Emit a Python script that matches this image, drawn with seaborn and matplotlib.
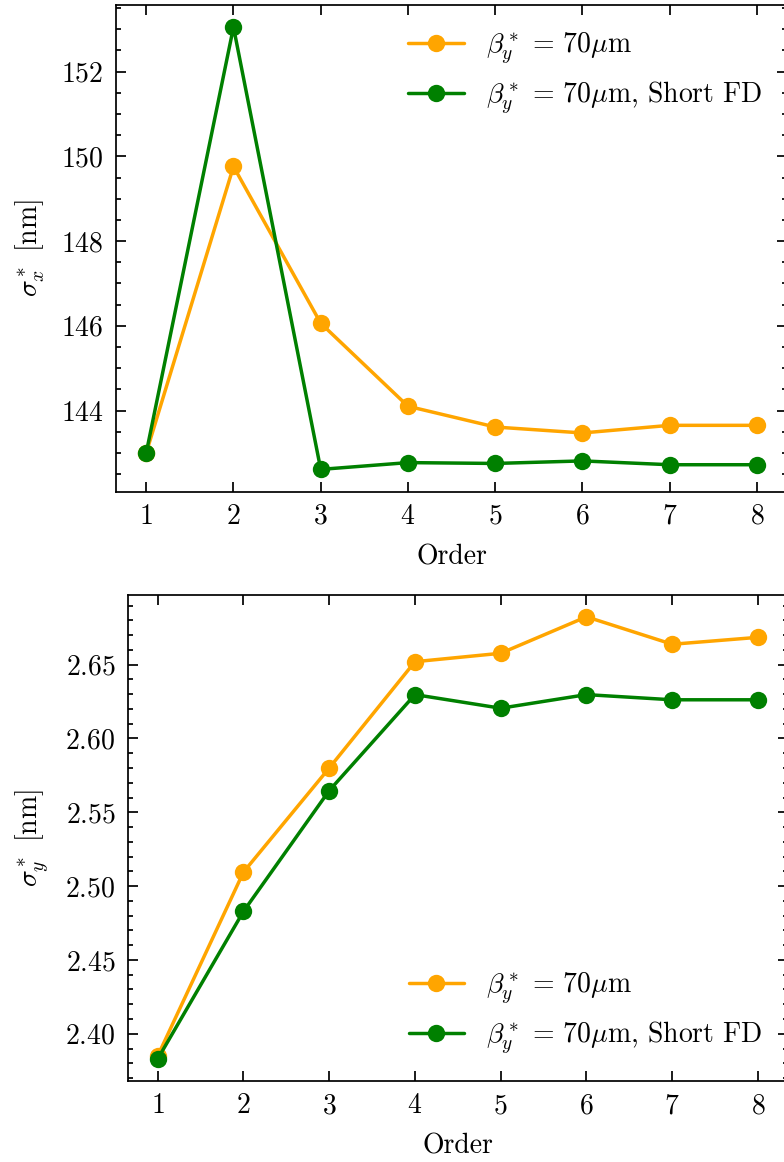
import matplotlib
matplotlib.use("Agg")
import matplotlib.pyplot as plt
import seaborn as sns
import pandas as pd
from matplotlib.ticker import AutoMinorLocator, NullLocator

# ---- data ----
order = [1, 2, 3, 4, 5, 6, 7, 8]
sigx_70 = [143.00, 149.76, 146.06, 144.10, 143.61, 143.47, 143.65, 143.65]
sigx_70_short = [143.00, 153.05, 142.61, 142.77, 142.75, 142.81, 142.72, 142.72]
sigy_70 = [2.385, 2.5095, 2.580, 2.652, 2.6577, 2.6824, 2.6638, 2.6685]
sigy_70_short = [2.383, 2.4829, 2.5647, 2.6297, 2.6205, 2.6297, 2.6262, 2.6262]
labels = [r'$\beta_y^*\,=\,70\mu$m', r'$\beta_y^*\,=\,70\mu$m, Short FD']
colors = ['orange', 'green']

sns.set_theme(style="ticks")
plt.rcParams.update({
    'font.family': 'serif',
    'font.serif': ['cmr10', 'DejaVu Serif'],
    'mathtext.fontset': 'cm',
    'axes.formatter.use_mathtext': True,
    'font.size': 8,
    'axes.labelsize': 8,
    'xtick.labelsize': 8,
    'ytick.labelsize': 8,
    'legend.fontsize': 8,
    'axes.linewidth': 0.5,
    'axes.edgecolor': 'black',
    'xtick.direction': 'in',
    'ytick.direction': 'in',
    'xtick.top': True,
    'ytick.right': True,
    'xtick.major.size': 3,
    'ytick.major.size': 3,
    'xtick.minor.size': 1.5,
    'ytick.minor.size': 1.5,
    'xtick.major.width': 0.5,
    'ytick.major.width': 0.5,
    'xtick.minor.width': 0.5,
    'ytick.minor.width': 0.5,
    'xtick.color': 'black',
    'ytick.color': 'black',
    'axes.labelcolor': 'black',
    'text.color': 'black',
})

W, H = 784, 1162
fig = plt.figure(figsize=(W / 250, H / 250), dpi=250)
ax1 = fig.add_axes([115.7 / W, (H - 491.5) / H, (787.5 - 115.7) / W, (491.5 - 5) / H])
ax2 = fig.add_axes([127.7 / W, (H - 1081) / H, (788 - 127.7) / W, (1081 - 594.7) / H])

df1 = pd.DataFrame({'Order': order * 2,
                    'val': sigx_70 + sigx_70_short,
                    'series': [labels[0]] * 8 + [labels[1]] * 8})
df2 = pd.DataFrame({'Order': order * 2,
                    'val': sigy_70 + sigy_70_short,
                    'series': [labels[0]] * 8 + [labels[1]] * 8})

for ax, df, ylab, loc in [(ax1, df1, r'$\sigma_x^*$ [nm]', 'upper right'),
                          (ax2, df2, r'$\sigma_y^*$ [nm]', 'lower right')]:
    for lab, col in zip(labels, colors):
        sub = df[df['series'] == lab]
        sns.lineplot(data=sub, x='Order', y='val', ax=ax, color=col, label=lab,
                     marker='o', markersize=5, markeredgewidth=0, linewidth=1)
    ax.set_xticks(order)
    ax.xaxis.set_minor_locator(NullLocator())
    ax.yaxis.set_minor_locator(AutoMinorLocator())
    ax.set_xlabel('Order')
    ax.set_ylabel(ylab)
    ax.legend(loc=loc, frameon=False)
    for s in ax.spines.values():
        s.set_visible(True)
        s.set_linewidth(0.5)

fig.savefig('out.png', dpi=250)
